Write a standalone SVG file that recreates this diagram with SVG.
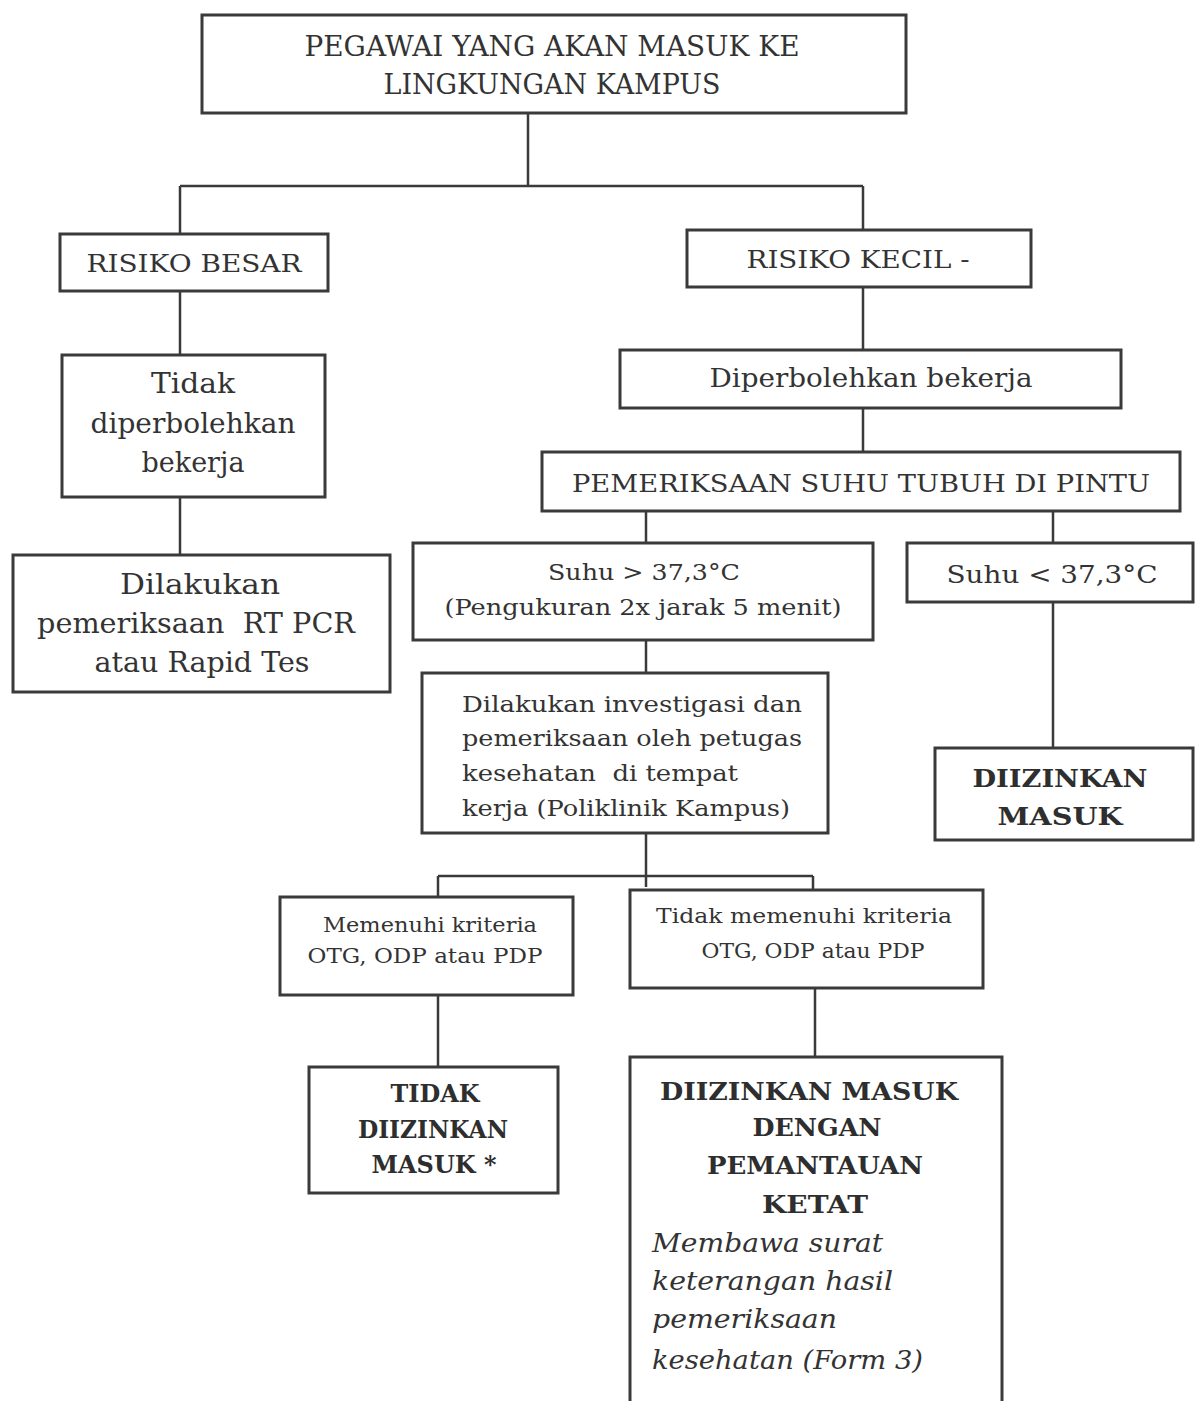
<svg xmlns="http://www.w3.org/2000/svg" width="1195" height="1401" viewBox="0 0 1195 1401">
<style>
  .box { fill: #ffffff; stroke: #3a3a3a; stroke-width: 3; }
  .conn { fill: none; stroke: #3a3a3a; stroke-width: 2.5; }
  text { font-family: "DejaVu Serif", "Liberation Serif", serif; fill: #333333; white-space: pre; }
  .c { text-anchor: middle; }
  .b { font-weight: bold; fill: #2e2e2e; }
  .i { font-style: italic; }
</style>
<rect width="1195" height="1401" fill="#ffffff"/>

<g id="connectors">
  <path class="conn" d="M528 113 V186 M180 186 H863 M180 186 V234 M863 186 V230"/>
  <path class="conn" d="M180 291 V355 M180 497 V555"/>
  <path class="conn" d="M863 287 V350 M863 408 V452"/>
  <path class="conn" d="M646 511 V543 M1053 511 V543"/>
  <path class="conn" d="M1053 602 V748"/>
  <path class="conn" d="M646 640 V673"/>
  <path class="conn" d="M646 833 V887 M438 876 H813 M438 876 V897 M813 876 V890"/>
  <path class="conn" d="M438 995 V1067 M815 988 V1057"/>
</g>

<g id="node-pegawai">
  <rect class="box" x="202" y="15" width="704" height="98"/>
  <text class="c" x="552" y="56" font-size="28" textLength="495" lengthAdjust="spacingAndGlyphs">PEGAWAI YANG AKAN MASUK KE</text>
  <text class="c" x="552" y="94" font-size="28" textLength="337" lengthAdjust="spacingAndGlyphs">LINGKUNGAN KAMPUS</text>
</g>

<g id="node-risiko-besar">
  <rect class="box" x="60" y="234" width="268" height="57"/>
  <text class="c" x="194" y="272" font-size="25" textLength="215" lengthAdjust="spacingAndGlyphs">RISIKO BESAR</text>
</g>

<g id="node-risiko-kecil">
  <rect class="box" x="687" y="230" width="344" height="57"/>
  <text class="c" x="858" y="268" font-size="25" textLength="223" lengthAdjust="spacingAndGlyphs">RISIKO KECIL -</text>
</g>

<g id="node-tidak-diperbolehkan">
  <rect class="box" x="62" y="355" width="263" height="142"/>
  <text class="c" x="193" y="393" font-size="27" textLength="84" lengthAdjust="spacingAndGlyphs">Tidak</text>
  <text class="c" x="193" y="433" font-size="27" textLength="205" lengthAdjust="spacingAndGlyphs">diperbolehkan</text>
  <text class="c" x="193" y="472" font-size="27" textLength="103" lengthAdjust="spacingAndGlyphs">bekerja</text>
</g>

<g id="node-rtpcr">
  <rect class="box" x="13" y="555" width="377" height="137"/>
  <text class="c" x="200" y="594" font-size="28" textLength="160" lengthAdjust="spacingAndGlyphs">Dilakukan</text>
  <text class="c" x="196" y="633" font-size="28" textLength="318" lengthAdjust="spacingAndGlyphs">pemeriksaan  RT PCR</text>
  <text class="c" x="202" y="672" font-size="28" textLength="215" lengthAdjust="spacingAndGlyphs">atau Rapid Tes</text>
</g>

<g id="node-diperbolehkan">
  <rect class="box" x="620" y="350" width="501" height="58"/>
  <text class="c" x="871" y="387" font-size="26" textLength="323" lengthAdjust="spacingAndGlyphs">Diperbolehkan bekerja</text>
</g>

<g id="node-pemeriksaan-suhu">
  <rect class="box" x="542" y="452" width="638" height="59"/>
  <text class="c" x="861" y="492" font-size="25" textLength="578" lengthAdjust="spacingAndGlyphs">PEMERIKSAAN SUHU TUBUH DI PINTU</text>
</g>

<g id="node-suhu-tinggi">
  <rect class="box" x="413" y="543" width="460" height="97"/>
  <text class="c" x="644" y="580" font-size="23" textLength="192" lengthAdjust="spacingAndGlyphs">Suhu &gt; 37,3°C</text>
  <text class="c" x="643" y="615" font-size="22" textLength="397" lengthAdjust="spacingAndGlyphs">(Pengukuran 2x jarak 5 menit)</text>
</g>

<g id="node-suhu-rendah">
  <rect class="box" x="907" y="543" width="286" height="59"/>
  <text class="c" x="1052" y="583" font-size="25" textLength="211" lengthAdjust="spacingAndGlyphs">Suhu &lt; 37,3°C</text>
</g>

<g id="node-diizinkan-masuk">
  <rect class="box" x="935" y="748" width="258" height="92"/>
  <text class="c b" x="1060" y="787" font-size="24" textLength="175" lengthAdjust="spacingAndGlyphs">DIIZINKAN</text>
  <text class="c b" x="1060" y="825" font-size="24" textLength="125" lengthAdjust="spacingAndGlyphs">MASUK</text>
</g>

<g id="node-investigasi">
  <rect class="box" x="422" y="673" width="406" height="160"/>
  <text x="462" y="712" font-size="23" textLength="340" lengthAdjust="spacingAndGlyphs">Dilakukan investigasi dan</text>
  <text x="462" y="746" font-size="23" textLength="340" lengthAdjust="spacingAndGlyphs">pemeriksaan oleh petugas</text>
  <text x="462" y="781" font-size="23" textLength="276" lengthAdjust="spacingAndGlyphs">kesehatan  di tempat</text>
  <text x="462" y="816" font-size="23" textLength="328" lengthAdjust="spacingAndGlyphs">kerja (Poliklinik Kampus)</text>
</g>

<g id="node-memenuhi">
  <rect class="box" x="280" y="897" width="293" height="98"/>
  <text class="c" x="430" y="932" font-size="21" textLength="214" lengthAdjust="spacingAndGlyphs">Memenuhi kriteria</text>
  <text class="c" x="425" y="963" font-size="21" textLength="235" lengthAdjust="spacingAndGlyphs">OTG, ODP atau PDP</text>
</g>

<g id="node-tidak-memenuhi">
  <rect class="box" x="630" y="890" width="353" height="98"/>
  <text class="c" x="804" y="923" font-size="20" textLength="296" lengthAdjust="spacingAndGlyphs">Tidak memenuhi kriteria</text>
  <text class="c" x="813" y="958" font-size="20" textLength="223" lengthAdjust="spacingAndGlyphs">OTG, ODP atau PDP</text>
</g>

<g id="node-tidak-diizinkan">
  <rect class="box" x="309" y="1067" width="249" height="126"/>
  <text class="c b" x="435" y="1102" font-size="24" textLength="89" lengthAdjust="spacingAndGlyphs">TIDAK</text>
  <text class="c b" x="433" y="1138" font-size="24" textLength="150" lengthAdjust="spacingAndGlyphs">DIIZINKAN</text>
  <text class="c b" x="434" y="1173" font-size="24" textLength="125" lengthAdjust="spacingAndGlyphs">MASUK *</text>
</g>

<g id="node-pemantauan-ketat">
  <rect class="box" x="630" y="1057" width="372" height="360"/>
  <text class="c b" x="809" y="1100" font-size="25" textLength="298" lengthAdjust="spacingAndGlyphs">DIIZINKAN MASUK</text>
  <text class="c b" x="817" y="1136" font-size="25" textLength="129" lengthAdjust="spacingAndGlyphs">DENGAN</text>
  <text class="c b" x="815" y="1174" font-size="25" textLength="216" lengthAdjust="spacingAndGlyphs">PEMANTAUAN</text>
  <text class="c b" x="815" y="1213" font-size="25" textLength="106" lengthAdjust="spacingAndGlyphs">KETAT</text>
  <text class="i" x="652" y="1252" font-size="26" textLength="231" lengthAdjust="spacingAndGlyphs">Membawa surat</text>
  <text class="i" x="652" y="1290" font-size="26" textLength="241" lengthAdjust="spacingAndGlyphs">keterangan hasil</text>
  <text class="i" x="652" y="1328" font-size="26" textLength="185" lengthAdjust="spacingAndGlyphs">pemeriksaan</text>
  <text class="i" x="652" y="1369" font-size="26" textLength="271" lengthAdjust="spacingAndGlyphs">kesehatan (Form 3)</text>
</g>
</svg>
